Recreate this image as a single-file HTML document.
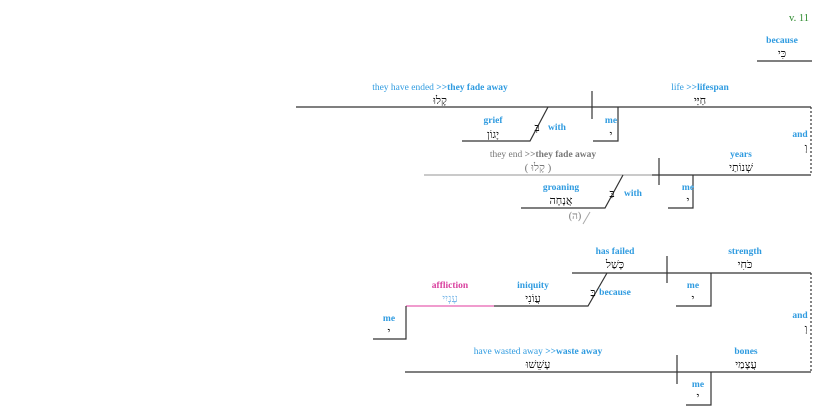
<!DOCTYPE html>
<html><head><meta charset="utf-8"><style>
html,body{margin:0;padding:0;background:#fff;}
svg{display:block;}
.l{font-family:"Liberation Serif",serif;font-size:9.5px;fill:#2f9be0;text-anchor:middle;}
.b{font-weight:bold;}
.h{font-family:"Liberation Serif","Noto Serif CJK SC",serif;font-size:11px;fill:#111;text-anchor:middle;}
.g{fill:#777;}
</style></head><body>
<svg width="825" height="408" viewBox="0 0 825 408" xmlns="http://www.w3.org/2000/svg">
<g stroke="#333" stroke-width="1.2" fill="none">
<line x1="757" y1="61" x2="812" y2="61"/>
<line x1="296" y1="107" x2="811" y2="107"/>
<line x1="592" y1="91" x2="592" y2="119"/>
<polyline points="593,141 618,141 618,107"/>
<polyline points="462,141 530,141 548,107"/>
<line x1="811" y1="107" x2="811" y2="175" stroke-dasharray="2,2"/>
<line x1="424" y1="175" x2="652" y2="175" stroke="#aaa"/>
<line x1="652" y1="175" x2="811" y2="175"/>
<line x1="659" y1="158" x2="659" y2="185"/>
<polyline points="668,208 693,208 693,175"/>
<polyline points="521,208 605,208 623,175"/>
<line x1="590" y1="212" x2="583" y2="224" stroke="#aaa" stroke-width="1"/>
<line x1="572" y1="273" x2="811" y2="273"/>
<line x1="667" y1="256" x2="667" y2="283"/>
<polyline points="676,306 711,306 711,273"/>
<polyline points="494,306 588,306 607,273"/>
<line x1="406" y1="306" x2="494" y2="306" stroke="#e860b0"/>
<polyline points="373,339 406,339 406,306"/>
<line x1="811" y1="273" x2="811" y2="372" stroke-dasharray="2,2"/>
<line x1="405" y1="372" x2="811" y2="372"/>
<line x1="677" y1="355" x2="677" y2="384"/>
<polyline points="686,405 711,405 711,372"/>
</g>
<text x="799" y="21" class="l" style="fill:#2e8b2e;font-size:10.5px">v. 11</text>
<text x="782" y="43" class="l b">because</text>
<text x="782" y="57" class="h">כִּי</text>

<text x="440" y="90" class="l">they have ended <tspan class="b">&gt;&gt;they fade away</tspan></text>
<text x="440" y="104" class="h">קָלוּ</text>
<text x="700" y="90" class="l">life <tspan class="b">&gt;&gt;lifespan</tspan></text>
<text x="700" y="104" class="h">חַיַּי</text>
<text x="611" y="123" class="l b">me</text>
<text x="611" y="138" class="h">י</text>
<text x="493" y="123" class="l b">grief</text>
<text x="493" y="138" class="h">יָגוֹן</text>
<text x="537" y="131" class="h">בְּ</text>
<text x="557" y="130" class="l b">with</text>
<text x="800" y="137" class="l b">and</text>
<text x="806" y="151" class="h">וְ</text>

<text x="543" y="157" class="l g">they end <tspan class="b">&gt;&gt;they fade away</tspan></text>
<text x="538" y="171" class="h g">( קָלוּ )</text>
<text x="741" y="157" class="l b">years</text>
<text x="741" y="171" class="h">שְׁנוֹתַי</text>
<text x="688" y="190" class="l b">me</text>
<text x="688" y="204" class="h">י</text>
<text x="561" y="190" class="l b">groaning</text>
<text x="561" y="204" class="h">אֲנָחָה</text>
<text x="612" y="197" class="h">בַּ</text>
<text x="633" y="196" class="l b">with</text>
<text x="575" y="219" class="h g" style="font-size:10px">(ה)</text>

<text x="615" y="254" class="l b">has failed</text>
<text x="615" y="268" class="h">כָּשַׁל</text>
<text x="745" y="254" class="l b">strength</text>
<text x="745" y="268" class="h">כֹּחִי</text>
<text x="693" y="288" class="l b">me</text>
<text x="693" y="302" class="h">י</text>
<text x="533" y="288" class="l b">iniquity</text>
<text x="533" y="302" class="h">עֲוֹנִי</text>
<text x="593" y="296" class="h">בַּ</text>
<text x="615" y="295" class="l b">because</text>
<text x="450" y="288" class="l b" style="fill:#d9409e">affliction</text>
<text x="450" y="302" class="h" style="fill:#7ab8e8">עָנְיִי</text>
<text x="389" y="321" class="l b">me</text>
<text x="389" y="335" class="h">י</text>
<text x="800" y="318" class="l b">and</text>
<text x="806" y="332" class="h">וְ</text>

<text x="538" y="354" class="l">have wasted away <tspan class="b">&gt;&gt;waste away</tspan></text>
<text x="538" y="368" class="h">עָשֵׁשׁוּ</text>
<text x="746" y="354" class="l b">bones</text>
<text x="746" y="368" class="h">עֲצָמַי</text>
<text x="698" y="387" class="l b">me</text>
<text x="698" y="400" class="h">י</text>
</svg>
</body></html>
